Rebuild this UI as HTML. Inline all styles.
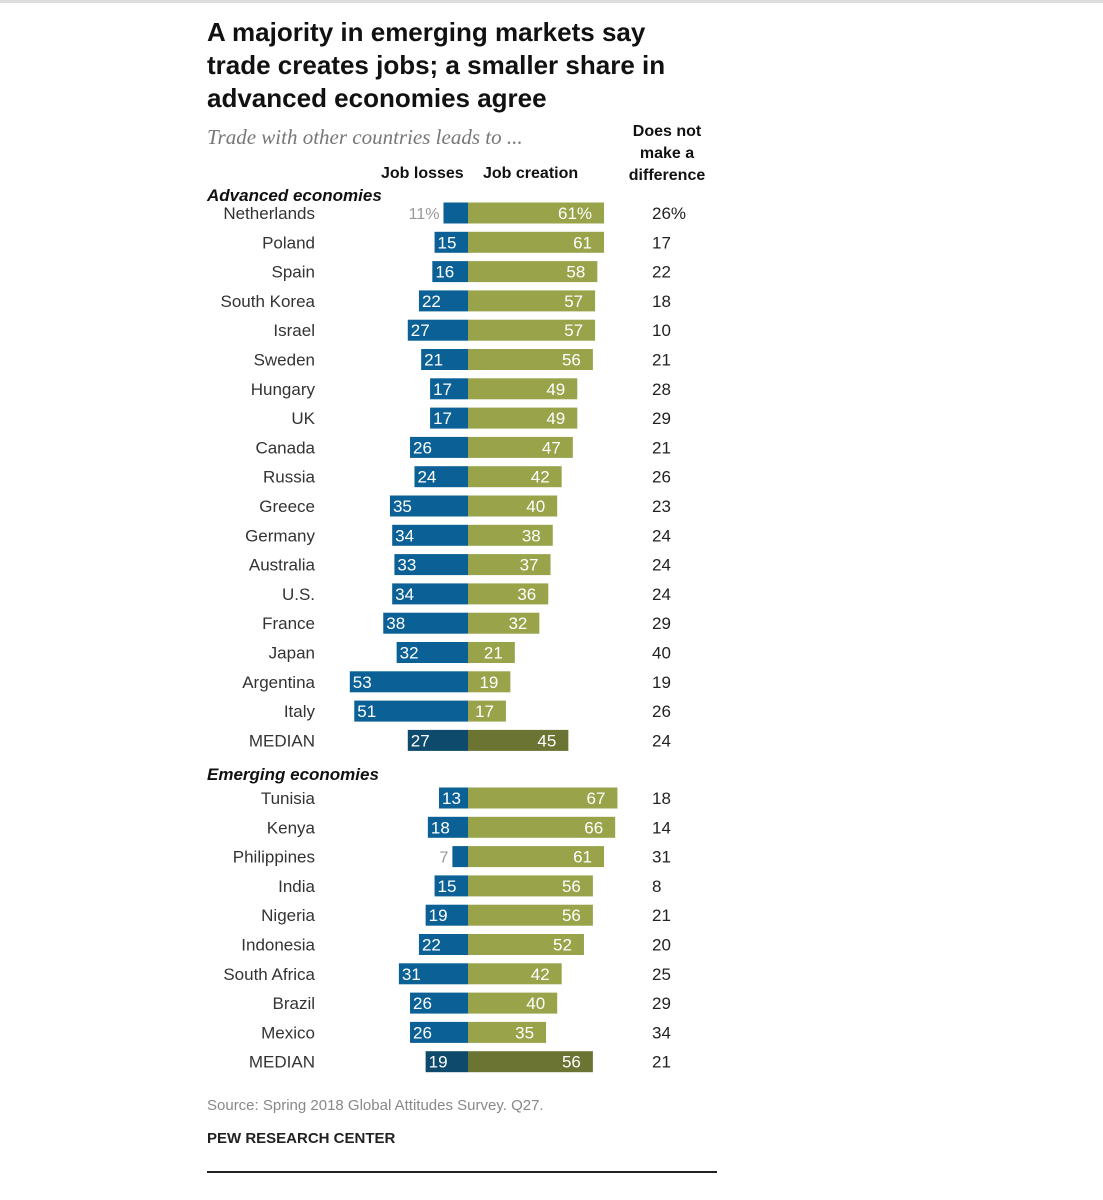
<!DOCTYPE html>
<html><head><meta charset="utf-8"><style>
body{margin:0;width:1103px;height:1200px;background:#fff;font-family:"Liberation Sans",sans-serif;position:relative;overflow:hidden}
.t{position:absolute;white-space:nowrap}
</style></head><body>
<div style="position:absolute;left:0;top:0;width:1103px;height:3px;background:#ddd"></div>
<div class="t" style="left:207px;top:16px;font-size:26px;font-weight:bold;line-height:33px;color:#111">A majority in emerging markets say<br>trade creates jobs; a smaller share in<br>advanced economies agree</div>
<div class="t" style="left:207px;top:125px;font-family:'Liberation Serif',serif;font-style:italic;font-size:21px;color:#777">Trade with other countries leads to ...</div>
<div class="t" style="left:617px;top:121px;width:100px;text-align:center;font-size:16px;font-weight:bold;line-height:22px;color:#111">Does not<br>make a<br>difference</div>
<div class="t" style="left:381px;top:165px;font-size:16px;font-weight:bold;color:#111">Job losses</div>
<div class="t" style="left:483px;top:165px;font-size:16px;font-weight:bold;color:#111">Job creation</div>
<svg id="chart" width="1103" height="1200" style="position:absolute;left:0;top:0"></svg>
<div class="t" style="left:207px;top:1097px;font-size:15px;color:#888">Source: Spring 2018 Global Attitudes Survey. Q27.</div>
<div class="t" style="left:207px;top:1130px;font-size:15px;font-weight:bold;color:#222">PEW RESEARCH CENTER</div>
<div style="position:absolute;left:207px;top:1171px;width:510px;height:2px;background:#222"></div>
<script>
const advCountries=["Netherlands","Poland","Spain","South Korea","Israel","Sweden","Hungary","UK","Canada","Russia","Greece","Germany","Australia","U.S.","France","Japan","Argentina","Italy","MEDIAN"];
const advLosses=[11,15,16,22,27,21,17,17,26,24,35,34,33,34,38,32,53,51,27];
const advCreation=[61,61,58,57,57,56,49,49,47,42,40,38,37,36,32,21,19,17,45];
const advNoDiff=[26,17,22,18,10,21,28,29,21,26,23,24,24,24,29,40,19,26,24];
const emCountries=["Tunisia","Kenya","Philippines","India","Nigeria","Indonesia","South Africa","Brazil","Mexico","MEDIAN"];
const emLosses=[13,18,7,15,19,22,31,26,26,19];
const emCreation=[67,66,61,56,56,52,42,40,35,56];
const emNoDiff=[18,14,31,8,21,20,25,29,34,21];

const svg=document.getElementById('chart');
const NS='http://www.w3.org/2000/svg';
const CX=468, K=2.23, ROW=29.3, BH=21;
const xs=v=>v*K;
function mk(tag,attrs,txt){const e=document.createElementNS(NS,tag);for(const k in attrs)e.setAttribute(k,attrs[k]);if(txt!==undefined)e.textContent=txt;svg.appendChild(e);return e;}
function group(countries,losses,creation,nodiff,y0,title,ty,gname){
  const h=mk('text',{x:207,y:ty,'font-size':17,'font-weight':'bold','font-style':'italic',fill:'#111'},title);
  
  
  countries.forEach((c,i)=>{
    const yc=y0+i*ROW, med=c==='MEDIAN', first=i===0&&gname==='advanced';
    const lab=mk('text',{x:315,y:yc+6,'text-anchor':'end','font-size':17,fill:'#333'},c);
    
    
    const wl=xs(losses[i]);
    const bl=mk('rect',{x:CX-wl,y:yc-BH/2,width:wl,height:BH,fill:med?'#0d4a6c':'#0b6196'});
    
    
    const wc=xs(creation[i]);
    const bc=mk('rect',{x:CX,y:yc-BH/2,width:wc,height:BH,fill:med?'#6b7433':'#98a34a'});
    
    
    let tl;
    if(losses[i]<12){tl=mk('text',{x:CX-wl-4,y:yc+6,'text-anchor':'end','font-size':16,fill:'#999'},losses[i]+(first?'%':''));}
    else{tl=mk('text',{x:CX-wl+3,y:yc+6,'font-size':17,fill:'#fff'},losses[i]+(first?'%':''));}
    
    
    const tc=mk('text',{x:CX+wc-12,y:yc+6,'text-anchor':'end','font-size':17,fill:'#fff'},creation[i]+(first?'%':''));
    
    
    const tn=mk('text',{x:(first?652:652),y:yc+6,'font-size':17,fill:'#222'},nodiff[i]+(first?'%':''));
    
    
  });
}
group(advCountries,advLosses,advCreation,advNoDiff,213,'Advanced economies',201,'advanced');
group(emCountries,emLosses,emCreation,emNoDiff,798,'Emerging economies',780,'emerging');
</script>
</body></html>
